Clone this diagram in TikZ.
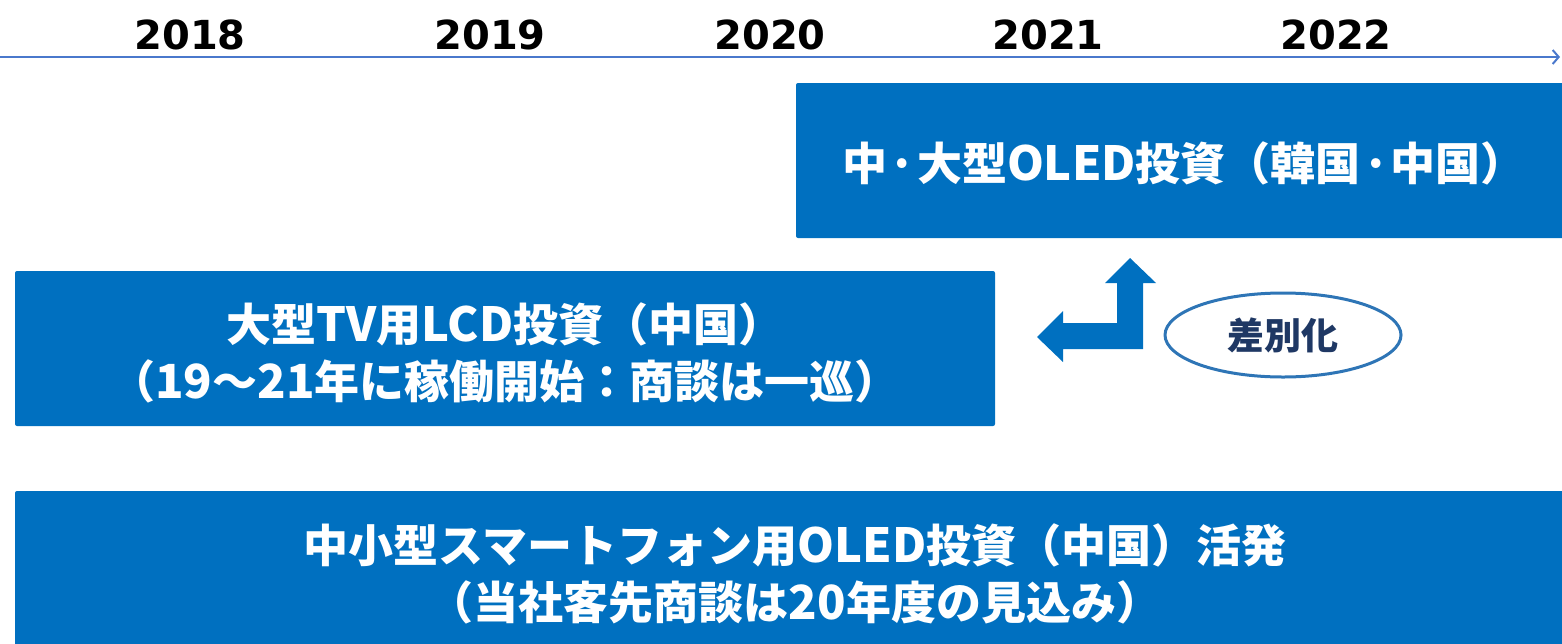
\documentclass[tikz,border=0pt]{standalone}
\usepackage{fontspec}
\newfontfamily\jp{Noto Sans CJK JP}
\newfontfamily\yr{DejaVu Sans}
\usetikzlibrary{arrows.meta,shapes.geometric}
\definecolor{boxblue}{HTML}{0070C0}
\definecolor{lineblue}{HTML}{4A78CC}
\definecolor{ellblue}{HTML}{2E75B6}
\definecolor{navy}{HTML}{1F3864}
\newcommand\lt[1]{{\fontsize{47}{57}\selectfont #1}}
\newcommand\md{\makebox[0.66em]{\makebox[0pt]{·}}}
\tikzset{
  year/.style={font=\yr\bfseries\fontsize{40}{40}\selectfont, text=black, inner sep=0pt},
  bluebox/.style={fill=boxblue, rounded corners=2pt},
  boxtext/.style={font=\jp\bfseries\fontsize{45}{57}\selectfont, text=white, align=center, inner sep=0pt},
}
\begin{document}
\begin{tikzpicture}[x=1pt,y=-1pt]
\useasboundingbox (0,0) rectangle (1562,643);
% timeline
\coordinate (tl0) at (0,57);
\coordinate (tl1) at (1560,57);
\draw[lineblue, line width=2pt, -{Straight Barb[length=6pt,width=14pt]}] (tl0) -- (tl1);
\node[year] (y2018) at (190,35) {2018};
\node[year] (y2019) at (490,35) {2019};
\node[year] (y2020) at (770,35) {2020};
\node[year] (y2021) at (1048,35) {2021};
\node[year] (y2022) at (1336,35) {2022};
% boxes
\fill[bluebox] (796,83) rectangle (1575,238);
\node[boxtext] (oled) at (1184,163) {中\md 大型\lt{OLED}投資（韓国\md 中国）};
\fill[bluebox] (15,271) rectangle (995,426);
\node[boxtext] (lcd) at (505,353) {大型\lt{TV}用\lt{LCD}投資（中国）\\（\lt{19}～\lt{21}年に稼働開始：商談は一巡）};
\fill[bluebox] (15,491) rectangle (1575,660);
\node[boxtext] (smart) at (795,574) {中小型スマートフォン用\lt{OLED}投資（中国）活発\\（当社客先商談は\lt{20}年度の見込み）};
% bent arrow
\fill[boxblue] (1130,258) -- (1156,283) -- (1143,283) -- (1143,349) -- (1063,349) -- (1063,362)
  -- (1037,337) -- (1063,311) -- (1063,323) -- (1117,323) -- (1117,283) -- (1105,283) -- cycle;
% ellipse
\node[draw=ellblue, line width=3pt, ellipse, minimum width=236pt, minimum height=84pt, inner sep=0pt,
  font=\jp\bfseries\fontsize{37}{37}\selectfont, text=navy] (diff) at (1283,335) {差別化};
\end{tikzpicture}
\end{document}
